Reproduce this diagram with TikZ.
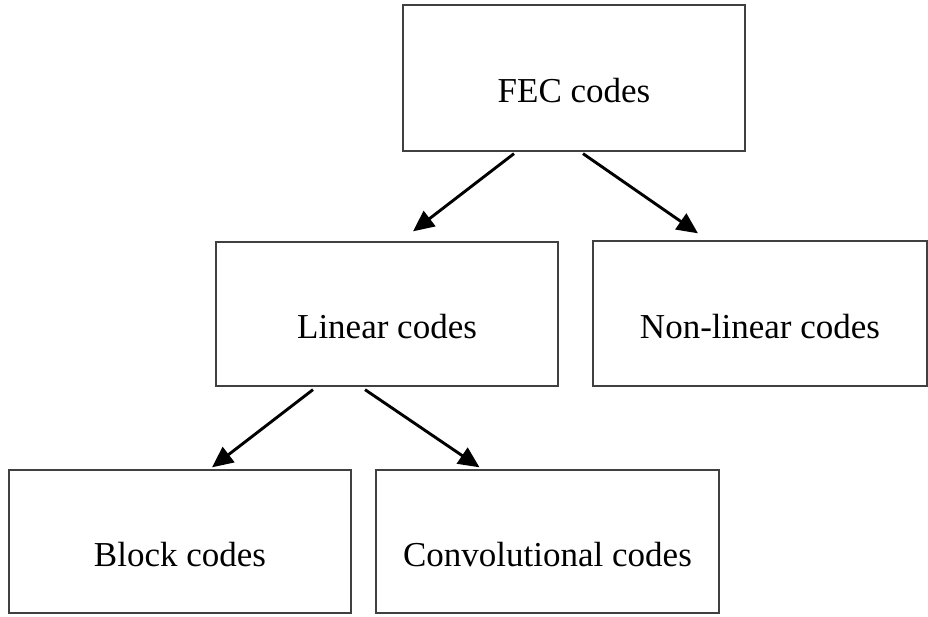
\documentclass[tikz,border=0pt]{standalone}
\usepackage{fontspec}
\setmainfont{Liberation Serif}
\usetikzlibrary{arrows.meta}

\begin{document}
\begin{tikzpicture}[x=1pt,y=1pt,
	codebox/.style={draw=black!75,line width=1.3pt,minimum height=144pt,
		text height=50pt,text depth=0pt,inner sep=0pt,
		font=\fontsize{35}{42}\selectfont},
	link/.style={line width=2.9pt,-{Triangle[length=21pt,width=19pt]}}]
	\useasboundingbox (0,0) rectangle (928,617);
	\node[codebox,minimum width=342pt,minimum height=146pt] (fec) at (574,539) {FEC codes};
	\node[codebox,minimum width=342pt] (lin) at (387,303) {Linear codes};
	\node[codebox,minimum width=334pt,minimum height=145pt] (nonlin) at (760,303.5) {Non-linear codes};
	\node[codebox,minimum width=342pt,minimum height=143pt] (block) at (180,75.5) {Block codes};
	\node[codebox,minimum width=343pt,minimum height=143pt] (conv) at (547.5,75.5) {Convolutional codes};
	\draw[link] ([xshift=-60pt,yshift=-2pt]fec.south) -- ([xshift=26pt,yshift=10pt]lin.north);
	\draw[link] ([xshift=9pt,yshift=-2pt]fec.south) -- ([xshift=-62pt,yshift=7pt]nonlin.north);
	\draw[link] ([xshift=-74pt,yshift=-3pt]lin.south) -- ([xshift=32pt,yshift=2pt]block.north);
	\draw[link] ([xshift=-22pt,yshift=-3pt]lin.south) -- ([xshift=-68pt,yshift=2pt]conv.north);
\end{tikzpicture}
\end{document}
